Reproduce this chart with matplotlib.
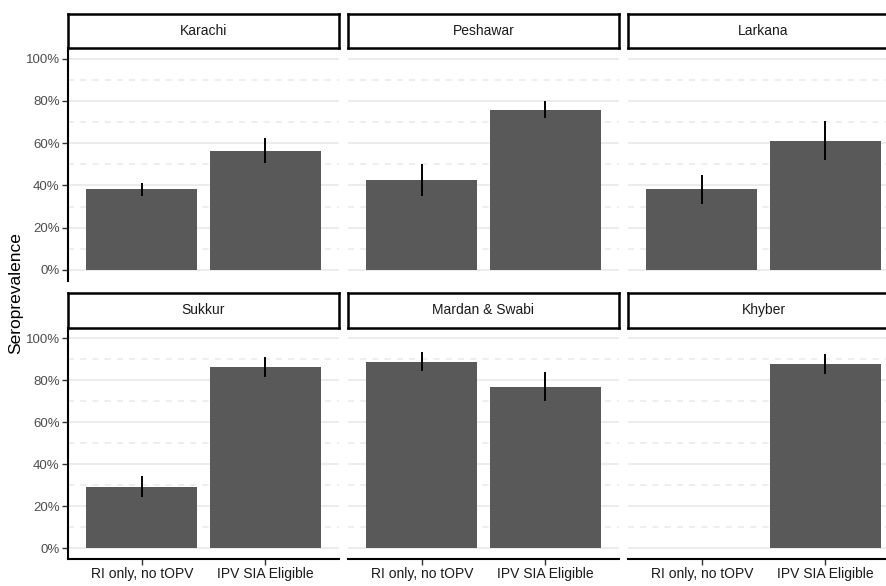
import numpy as np
import matplotlib
matplotlib.use("Agg")
import matplotlib.pyplot as plt
from matplotlib.ticker import FixedLocator, PercentFormatter

# Seroprevalence (%) by district and vaccination group, with 95% CI bounds
districts = ["Karachi", "Peshawar", "Larkana", "Sukkur", "Mardan & Swabi", "Khyber"]
groups = ["RI only, no tOPV", "IPV SIA Eligible"]
prev_ri = [38.1, 42.5, 38.1, 29.4, 88.9, np.nan]
prev_ipv = [56.3, 75.7, 61.1, 86.3, 77.0, 87.6]
lo_ri = [34.9, 35.2, 31.3, 24.6, 84.3, np.nan]
hi_ri = [41.3, 50.3, 45.1, 34.6, 93.5, np.nan]
lo_ipv = [50.8, 71.9, 52.2, 81.7, 70.3, 83.1]
hi_ipv = [62.2, 79.7, 70.5, 91.3, 84.1, 92.5]

W, H = 887, 586
narrow = ["Liberation Sans Narrow", "Liberation Sans", "DejaVu Sans"]
bar_col = "#595959"
grid_col = "#E9E9E9"

fig = plt.figure(figsize=(W / 100, H / 100), dpi=100)


def fx(px):
    return px / W


def fy(px):
    return 1 - px / H


panel_left = [68, 348, 628]
panel_w = 271
rows = [(14, 48, 280.5), (293, 327.7, 559)]  # strip top, panel top, panel bottom

for i, name in enumerate(districts):
    r, c = divmod(i, 3)
    s_top, p_top, p_bot = rows[r]
    x0 = panel_left[c]

    ax = fig.add_axes([fx(x0), fy(p_bot), fx(panel_w), (p_bot - p_top) / H])
    ax.set_xlim(0.4, 2.6)
    ax.set_ylim(-5, 105)

    # facet strip, kept above the panel so its lower border stays visible
    sax = fig.add_axes([fx(x0), fy(p_top), fx(panel_w), (p_top - s_top) / H])
    sax.set_zorder(5)
    sax.set_xticks([])
    sax.set_yticks([])
    for sp in sax.spines.values():
        sp.set_linewidth(1.8)
        sp.set_color("black")
    sax.text(0.5, 0.5, name, ha="center", va="center", fontsize=10,
             family=narrow, color="#1A1A1A", transform=sax.transAxes)

    for v in range(0, 101, 20):
        ax.axhline(v, color=grid_col, lw=1.2, zorder=0)
    for v in range(10, 100, 20):
        ax.axhline(v, color=grid_col, lw=1.1, ls=(0, (4, 4)), zorder=0)

    vals = [prev_ri[i], prev_ipv[i]]
    los = [lo_ri[i], lo_ipv[i]]
    his = [hi_ri[i], hi_ipv[i]]
    xs = np.array([1, 2])
    ok = ~np.isnan(vals)
    ax.bar(xs[ok], np.array(vals)[ok], width=0.9, color=bar_col, zorder=2)
    ax.vlines(xs[ok], np.array(los)[ok], np.array(his)[ok], color="black",
              lw=1.4, zorder=3)

    for sp in ["top", "right"]:
        ax.spines[sp].set_visible(False)
    ax.spines["left"].set_visible(c == 0)
    ax.spines["bottom"].set_visible(r == 1)
    for sp in ["left", "bottom"]:
        ax.spines[sp].set_linewidth(1.5)

    ax.yaxis.set_major_locator(FixedLocator([0, 20, 40, 60, 80, 100]))
    ax.yaxis.set_major_formatter(PercentFormatter(decimals=0))
    ax.set_xticks([1, 2])
    ax.tick_params(axis="both", length=4, width=1, color="#333333",
                   labelcolor="#4D4D4D", labelsize=9.5, pad=2)
    if c != 0:
        ax.tick_params(axis="y", left=False, labelleft=False)
    if r == 1:
        ax.set_xticklabels(groups)
        for t in ax.get_xticklabels():
            t.set_family(narrow)
            t.set_color("#1A1A1A")
            t.set_fontsize(10)
    else:
        ax.tick_params(axis="x", bottom=False, labelbottom=False)
    for t in ax.get_yticklabels():
        t.set_family(narrow)

fig.text(fx(16), fy(293), "Seroprevalence", rotation=90, ha="center",
         va="center", fontsize=12.5, family=["Liberation Sans", "DejaVu Sans"])

fig.savefig("out.png", dpi=100)
